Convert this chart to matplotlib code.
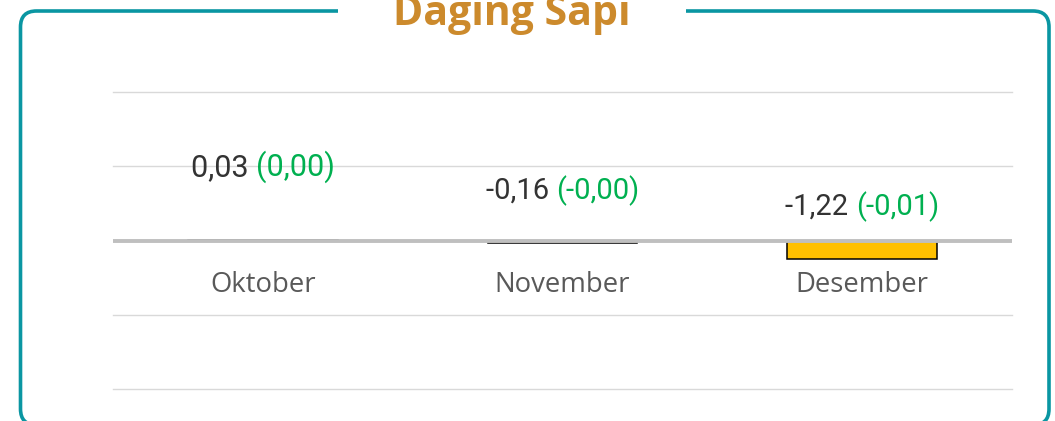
"""
Daging Sapi: monthly change with contribution in brackets.
"""
import matplotlib
matplotlib.use("Agg")
import matplotlib.pyplot as plt
import matplotlib.transforms as mtransforms
from matplotlib.patches import FancyBboxPatch, Rectangle
from matplotlib.offsetbox import TextArea, HPacker, AnnotationBbox

title = "Daging Sapi"
months = ["Oktober", "November", "Desember"]
change = [0.03, -0.16, -1.22]
contrib_labels = ["0,00", "-0,00", "-0,01"]
change_labels = ["0,03", "-0,16", "-1,22"]
yticks = [-10, -5, 0, 5, 10]

TEAL = "#0A96A2"
GOLD = "#CC8A2C"
GREEN = "#00B050"
BAR = "#FFC000"

W, H = 1055, 421
fig = plt.figure(figsize=(W / 100, H / 100), dpi=100)
ax = fig.add_axes([113 / W, 1 - 389 / H, (1012 - 113) / W, (389 - 92) / H])

x = list(range(len(months)))
ax.bar(x, change, width=0.5, color=BAR, edgecolor="black", linewidth=1.1, zorder=3)

ax.set_xlim(-0.5, len(months) - 0.5)
ax.set_ylim(yticks[0], yticks[-1])
for v in yticks:
    if v == 0:
        ax.axhline(v, color="#BFBFBF", lw=2.8, zorder=4)
    else:
        ax.axhline(v, color="#D9D9D9", lw=1.0, zorder=1, clip_on=False)
for s in ax.spines.values():
    s.set_visible(False)
ax.set_xticks([])
ax.set_yticks([])

# month names under the zero line
for i, m in enumerate(months):
    ax.annotate(m, (i, 0), xytext=(0, -32), textcoords="offset points",
                ha="center", va="center", fontsize=19.8, color="#595959",
                family=["Open Sans", "DejaVu Sans"], zorder=5)

# value labels: change (contribution)
label_style = [
    dict(size=22, dy=53),
    dict(size=21, dy=36),
    dict(size=21, dy=24.5),
]
for i, (a, b) in enumerate(zip(change_labels, contrib_labels)):
    st = label_style[i]
    fp = dict(family=["Roboto", "DejaVu Sans"], size=st["size"])
    t1 = TextArea(a + " ", textprops=dict(color="#333333", **fp))
    t2 = TextArea("(" + b + ")", textprops=dict(color=GREEN, **fp))
    box = HPacker(children=[t1, t2], align="baseline", pad=0, sep=0)
    ab = AnnotationBbox(box, (i, 0), xybox=(0, st["dy"]), boxcoords="offset points",
                        frameon=False, box_alignment=(0.5, 0.5), zorder=6)
    ax.add_artist(ab)

# rounded frame in pixel coordinates
px = mtransforms.IdentityTransform()
frame = FancyBboxPatch((20.5, -4), 1049 - 20.5, 410 + 4,
                       boxstyle="round,pad=0,rounding_size=16",
                       fill=False, edgecolor=TEAL, linewidth=2.6,
                       transform=px, zorder=10)
fig.patches.append(frame)
gap = Rectangle((338, 400), 686 - 338, 21, facecolor="white", edgecolor="none",
                transform=px, zorder=11)
fig.patches.append(gap)

fig.text(512 / W, 1 - 25 / H, title, ha="center", va="baseline",
         fontsize=29.5, fontweight="bold", color=GOLD,
         family=["Open Sans", "DejaVu Sans"], zorder=12)

fig.savefig("out.png", dpi=100)
print("Saved out.png")
